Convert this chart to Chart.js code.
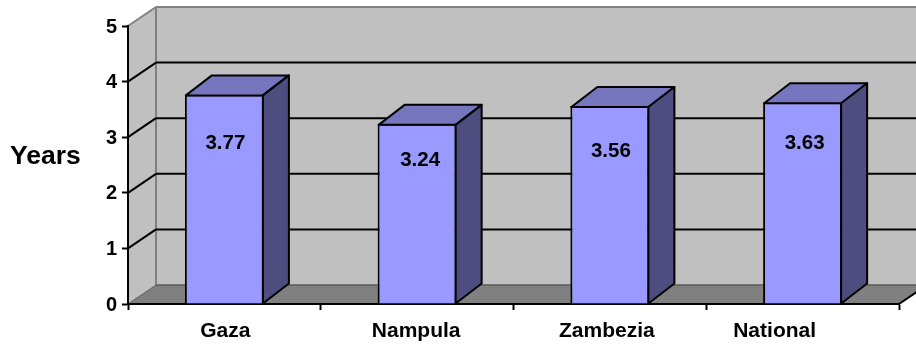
<!DOCTYPE html>
<html>
<head>
<meta charset="utf-8">
<title>Years by province</title>
<script src="https://cdn.jsdelivr.net/npm/chart.js@4/dist/chart.umd.min.js"></script>
<style>
  html, body { margin: 0; padding: 0; background: #fff; }
  canvas { display: block; }
</style>
</head>
<body>
<canvas id="chart" width="916" height="345"></canvas>
<script>
const categories = ['Gaza', 'Nampula', 'Zambezia', 'National'];
const years = [3.77, 3.24, 3.56, 3.63];
const gridValues = [1, 2, 3, 4];
const axisTitle = 'Years';

const FONT = '"Liberation Sans", Arial, sans-serif';
const WALL_DX = 28, WALL_DY = 19;   // perspective shift of the back wall
const BAR_DX = 26, BAR_DY = 20;     // perspective shift of each column
const WALL = '#C0C0C0', FLOOR = '#808080', EDGE = '#808080';
const FRONT = '#9999FF', TOP = '#7676BE', SIDE = '#4D4D80';
const labelDrop = [49, 36, 45, 41];        // how far each value sits below its column top
const labelShift = [1, 3, 1, 2];           // horizontal nudge of the value labels
const categoryLabelShift = [1, -1, -3, -28]; // horizontal nudge of the category names
const yLabelDrop = 1;                      // value-axis numbers sit just under their ticks

function poly(ctx, pts, fill, stroke, width) {
  ctx.beginPath();
  pts.forEach((p, i) => i ? ctx.lineTo(p[0], p[1]) : ctx.moveTo(p[0], p[1]));
  ctx.closePath();
  if (fill) { ctx.fillStyle = fill; ctx.fill(); }
  if (stroke) { ctx.strokeStyle = stroke; ctx.lineWidth = width; ctx.stroke(); }
}

function seg(ctx, x1, y1, x2, y2, color, width) {
  ctx.beginPath();
  ctx.moveTo(x1, y1);
  ctx.lineTo(x2, y2);
  ctx.strokeStyle = color;
  ctx.lineWidth = width;
  ctx.stroke();
}

const perspectivePlugin = {
  id: 'perspective',
  beforeDraw(chart) {
    const { ctx, scales: { y, x }, chartArea: a } = chart;
    const top = y.getPixelForValue(5), base = y.getPixelForValue(0);
    const bx = a.left + WALL_DX, W = chart.width + 20;

    // tick labels keep the scale positions apart from their nudges
    x.getLabelItems().forEach((item, i) => {
      item.options.translation[0] = x.getPixelForValue(i) + categoryLabelShift[i];
    });
    y.getLabelItems().forEach((item, i) => {
      item.options.translation[1] = y.getPixelForTick(i) + yLabelDrop;
    });

    ctx.save();
    ctx.lineJoin = 'round';
    // back wall, side wall, floor
    poly(ctx, [[bx, top - WALL_DY], [W, top - WALL_DY], [W, base - WALL_DY], [bx, base - WALL_DY]], WALL);
    poly(ctx, [[a.left, top], [bx, top - WALL_DY], [bx, base - WALL_DY], [a.left, base]], WALL);
    poly(ctx, [[a.left, base], [bx, base - WALL_DY], [W, base - WALL_DY], [a.right + WALL_DX, base - WALL_DY], [a.right, base]], FLOOR);

    // wall outlines
    seg(ctx, bx, top - WALL_DY, W, top - WALL_DY, EDGE, 2);
    seg(ctx, bx, top - WALL_DY, bx, base - WALL_DY, EDGE, 2);
    seg(ctx, a.left, top, bx, top - WALL_DY, EDGE, 2);
    seg(ctx, bx, base - WALL_DY, W, base - WALL_DY, '#5A5A5A', 1.5);
    seg(ctx, a.left, base, bx, base - WALL_DY, '#5A5A5A', 1);
    seg(ctx, a.right, base, a.right + WALL_DX, base - WALL_DY, '#000', 2);

    // grid lines run across the side wall and the back wall
    gridValues.forEach(v => {
      const py = y.getPixelForValue(v);
      seg(ctx, a.left, py, bx, py - WALL_DY, '#000', 2);
      seg(ctx, bx, py - WALL_DY, W, py - WALL_DY, '#000', 2);
    });

    // "Years" reads horizontally beside the axis
    ctx.fillStyle = '#000';
    ctx.font = 'bold 26.5px ' + FONT;
    ctx.textAlign = 'left';
    ctx.textBaseline = 'middle';
    ctx.fillText(axisTitle, 10, 157);
    ctx.restore();
  },
  afterDatasetsDraw(chart) {
    const { ctx } = chart;
    ctx.save();
    ctx.lineJoin = 'round';
    chart.getDatasetMeta(0).data.forEach((bar, i) => {
      const half = bar.width / 2;
      const l = bar.x - half + 1, r = bar.x + half - 1;
      const t = bar.y + 1, b = bar.base;
      poly(ctx, [[l, t], [l + BAR_DX, t - BAR_DY], [r + BAR_DX, t - BAR_DY], [r, t]], TOP, '#000', 2);
      poly(ctx, [[r, t], [r + BAR_DX, t - BAR_DY], [r + BAR_DX, b - BAR_DY], [r, b]], SIDE, '#000', 2);

      ctx.fillStyle = '#000';
      ctx.font = 'bold 20.5px ' + FONT;
      ctx.textAlign = 'center';
      ctx.textBaseline = 'middle';
      ctx.fillText(years[i].toFixed(2), bar.x + labelShift[i], bar.y + labelDrop[i]);
    });
    ctx.restore();
  }
};

new Chart(document.getElementById('chart'), {
  type: 'bar',
  data: {
    labels: categories,
    datasets: [{
      data: years,
      backgroundColor: FRONT,
      borderColor: '#000',
      borderWidth: 2,
      barPercentage: 0.82,
      categoryPercentage: 0.5
    }]
  },
  options: {
    responsive: false,
    animation: false,
    devicePixelRatio: 1,
    layout: { padding: { top: 26, right: 17, left: 0, bottom: 0 } },
    plugins: { legend: { display: false }, tooltip: { enabled: false }, title: { display: false } },
    scales: {
      x: {
        type: 'category',
        afterFit(scale) { scale.height = 41; },
        border: { color: '#000', width: 2 },
        grid: { display: true, drawOnChartArea: false, offset: true, tickLength: 6, tickWidth: 2, tickColor: '#000' },
        ticks: { color: '#000', font: { family: FONT, weight: 'bold', size: 21 }, padding: 9, maxRotation: 0, autoSkip: false }
      },
      y: {
        min: 0,
        max: 5,
        afterFit(scale) { scale.width = 128; },
        border: { color: '#000', width: 2 },
        grid: { display: true, drawOnChartArea: false, tickLength: 6, tickWidth: 2, tickColor: '#000' },
        ticks: { stepSize: 1, color: '#000', font: { family: FONT, weight: 'bold', size: 20 }, padding: 5 }
      }
    }
  },
  plugins: [perspectivePlugin]
});
</script>
</body>
</html>
